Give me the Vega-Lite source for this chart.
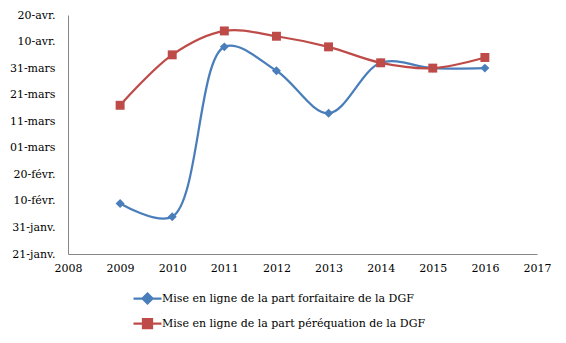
{
  "$schema": "https://vega.github.io/schema/vega-lite/v6.json",
  "width": 469,
  "height": 239,
  "autosize": "none",
  "padding": {"left": 68, "top": 15, "right": 29, "bottom": 89},
  "background": "white",
  "config": {
    "view": {"stroke": null},
    "font": "DejaVu Serif",
    "axis": {"labelFont": "DejaVu Serif", "labelFontSize": 11, "labelColor": "#000000", "grid": false, "ticks": false, "domainColor": "#868686", "domainWidth": 1, "title": null}
  },
  "data": {
    "values": [
      {"annee": 2009, "serie": "Mise en ligne de la part forfaitaire de la DGF", "date": "2000-02-09"},
      {"annee": 2010, "serie": "Mise en ligne de la part forfaitaire de la DGF", "date": "2000-02-04"},
      {"annee": 2011, "serie": "Mise en ligne de la part forfaitaire de la DGF", "date": "2000-04-08"},
      {"annee": 2012, "serie": "Mise en ligne de la part forfaitaire de la DGF", "date": "2000-03-30"},
      {"annee": 2013, "serie": "Mise en ligne de la part forfaitaire de la DGF", "date": "2000-03-14"},
      {"annee": 2014, "serie": "Mise en ligne de la part forfaitaire de la DGF", "date": "2000-04-02"},
      {"annee": 2015, "serie": "Mise en ligne de la part forfaitaire de la DGF", "date": "2000-03-31"},
      {"annee": 2016, "serie": "Mise en ligne de la part forfaitaire de la DGF", "date": "2000-03-31"},
      {"annee": 2009, "serie": "Mise en ligne de la part péréquation de la DGF", "date": "2000-03-17"},
      {"annee": 2010, "serie": "Mise en ligne de la part péréquation de la DGF", "date": "2000-04-05"},
      {"annee": 2011, "serie": "Mise en ligne de la part péréquation de la DGF", "date": "2000-04-14"},
      {"annee": 2012, "serie": "Mise en ligne de la part péréquation de la DGF", "date": "2000-04-12"},
      {"annee": 2013, "serie": "Mise en ligne de la part péréquation de la DGF", "date": "2000-04-08"},
      {"annee": 2014, "serie": "Mise en ligne de la part péréquation de la DGF", "date": "2000-04-02"},
      {"annee": 2015, "serie": "Mise en ligne de la part péréquation de la DGF", "date": "2000-03-31"},
      {"annee": 2016, "serie": "Mise en ligne de la part péréquation de la DGF", "date": "2000-04-04"}
    ]
  },
  "encoding": {
    "x": {
      "field": "annee", "type": "quantitative",
      "scale": {"domain": [2008, 2017], "nice": false, "zero": false},
      "axis": {"values": [2008, 2009, 2010, 2011, 2012, 2013, 2014, 2015, 2016, 2017], "format": "d", "labelPadding": 8, "labelFlush": false, "labelOverlap": false}
    },
    "y": {
      "field": "date", "type": "temporal",
      "scale": {"type": "utc", "domain": [{"year": 2000, "month": 1, "date": 21, "utc": true}, {"year": 2000, "month": 4, "date": 20, "utc": true}], "nice": false},
      "axis": {
        "values": [
          {"year": 2000, "month": 1, "date": 21, "utc": true},
          {"year": 2000, "month": 1, "date": 31, "utc": true},
          {"year": 2000, "month": 2, "date": 10, "utc": true},
          {"year": 2000, "month": 2, "date": 20, "utc": true},
          {"year": 2000, "month": 3, "date": 1, "utc": true},
          {"year": 2000, "month": 3, "date": 11, "utc": true},
          {"year": 2000, "month": 3, "date": 21, "utc": true},
          {"year": 2000, "month": 3, "date": 31, "utc": true},
          {"year": 2000, "month": 4, "date": 10, "utc": true},
          {"year": 2000, "month": 4, "date": 20, "utc": true}
        ],
        "labelExpr": "(utcdate(datum.value) < 10 ? '0' : '') + utcdate(datum.value) + '-' + ['janv.', 'févr.', 'mars', 'avr.'][utcmonth(datum.value)]",
        "labelPadding": 13, "labelFlush": false, "labelOverlap": false
      }
    },
    "order": {"field": "annee", "type": "quantitative"},
    "color": {
      "field": "serie", "type": "nominal",
      "scale": {"range": ["#4A7EBB", "#BE4B48"]},
      "legend": {
        "orient": "none", "legendX": 68, "legendY": 272, "direction": "vertical", "title": null,
        "labelFont": "DejaVu Serif", "labelFontSize": 11, "labelColor": "#000000", "labelLimit": 400,
        "symbolSize": 400, "symbolStrokeWidth": 2.25, "labelOffset": 3, "rowPadding": 4,
        "encode": {
          "symbols": {
            "update": {
              "shape": {"signal": "datum.index === 0 ? 'M-1.4,0H1.4M0,-0.5L0.5,0L0,0.5L-0.5,0Z' : 'M-1.4,0H1.4M-0.45,-0.45H0.45V0.45H-0.45Z'"},
              "fill": {"scale": "color", "field": "value"},
              "stroke": {"scale": "color", "field": "value"},
              "opacity": {"value": 1}
            }
          }
        }
      }
    }
  },
  "layer": [
    {"mark": {"type": "line", "interpolate": "catmull-rom", "strokeWidth": 2.25}},
    {
      "mark": {"type": "point", "filled": true, "opacity": 1, "size": 80},
      "encoding": {
        "shape": {"field": "serie", "type": "nominal", "scale": {"range": ["diamond", "square"]}, "legend": null}
      }
    }
  ]
}
